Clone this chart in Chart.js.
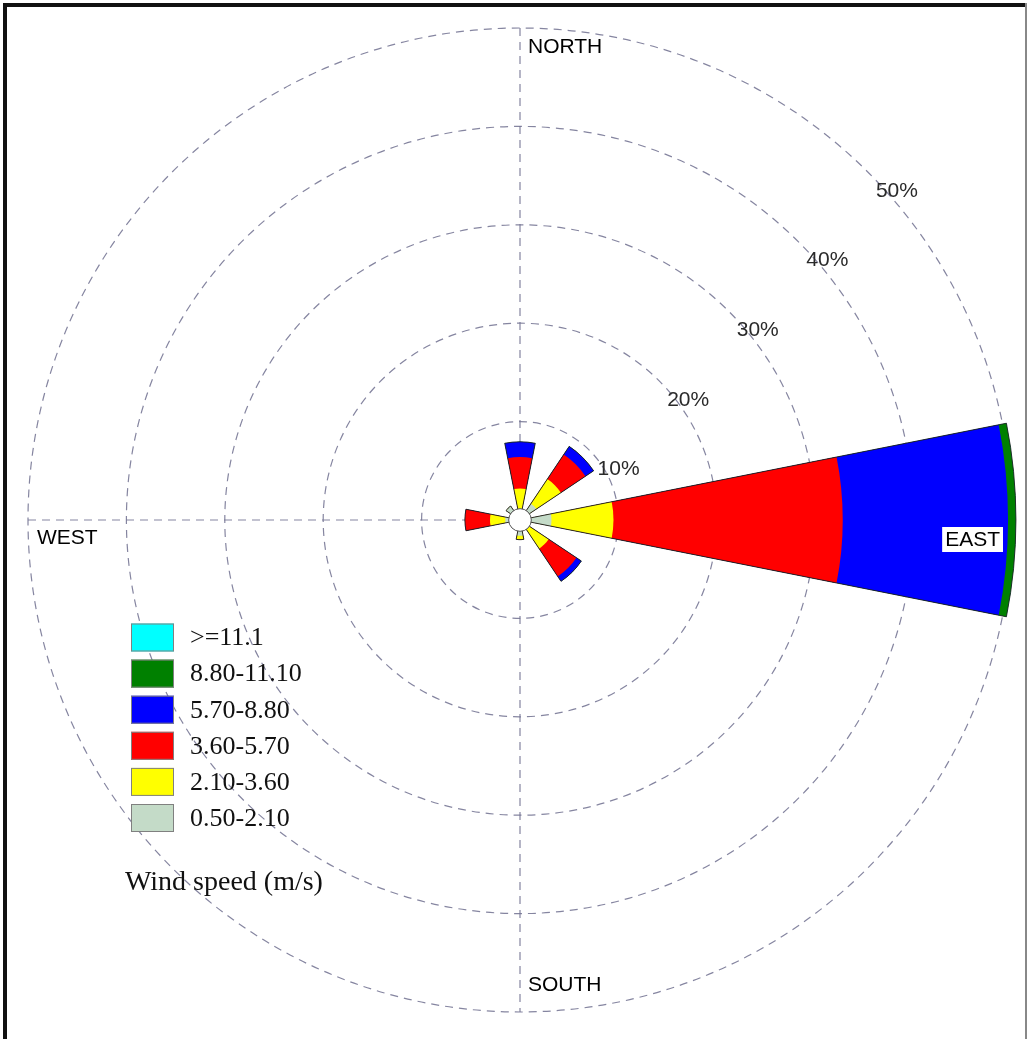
<!DOCTYPE html>
<html>
<head>
<meta charset="utf-8">
<script src="https://cdn.jsdelivr.net/npm/chart.js@4.4.1/dist/chart.umd.min.js"></script>
<style>
  html, body { margin: 0; padding: 0; background: #fff; }
  #wrap { position: relative; width: 1027px; height: 1039px; }
</style>
</head>
<body>
<div id="wrap"><canvas id="rose"></canvas></div>
<script>
// 16 compass sectors, clockwise from north
const directions = ['N','NNE','NE','ENE','E','ESE','SE','SSE','S','SSW','SW','WSW','W','WNW','NW','NNW'];

// wind speed classes (m/s) and their fill colours
const speedBins = ['0.50-2.10', '2.10-3.60', '3.60-5.70', '5.70-8.80', '8.80-11.10', '>=11.1'];
const binColors = ['#c4dbc8', '#ffff00', '#ff0000', '#0000ff', '#008000', '#00ffff'];

// frequency of occurrence (%) per direction for each speed class
const freq050to210  = [1.0, 0, 2.0, 0,  3.2, 0, 1.0, 0, 1.6, 0, 0, 0, 1.5,  0, 1.7, 0];
const freq210to360  = [2.2, 0, 3.0, 0,  6.3, 0, 2.5, 0, 0.4, 0, 0, 0, 1.55, 0, 0,   0];
const freq360to570  = [3.2, 0, 3.0, 0, 23.3, 0, 3.4, 0, 0,   0, 0, 0, 2.55, 0, 0,   0];
const freq570to880  = [1.55,0, 1.0, 0, 16.8, 0, 0.6, 0, 0,   0, 0, 0, 0,    0, 0,   0];
const freq880to1110 = [0,   0, 0,   0,  0.8, 0, 0,   0, 0,   0, 0, 0, 0,    0, 0,   0];
const freqAbove1110 = [0,   0, 0,   0,  0,   0, 0,   0, 0,   0, 0, 0, 0,    0, 0,   0];

// radial rings (%) and compass captions
const ringTicks = [0, 10, 20, 30, 40, 50];
const compassNames = ['NORTH', 'EAST', 'SOUTH', 'WEST'];
const legendTitle = 'Wind speed (m/s)';
const calmHole = 1.15; // radius of the central calm circle, in %

const binSeries = [freq050to210, freq210to360, freq360to570, freq570to880, freq880to1110, freqAbove1110];

// polar-area arcs always start at the centre, so each class is drawn as the
// running total of the classes below it; lower classes sit on top.
let running = directions.map(() => 0);
const binDatasets = binSeries.map((vals, k) => {
  running = running.map((r, i) => r + vals[i]);
  return {
    label: speedBins[k],
    data: running.slice(),
    backgroundColor: binColors[k],
    borderWidth: 0,
    clip: false
  };
});

// outline of each whole petal, drawn last so inner class boundaries stay clean
const outlineDataset = {
  label: 'outline',
  data: running.slice(),
  backgroundColor: 'rgba(0,0,0,0)',
  borderColor: 'rgba(30,30,30,0.9)',
  borderWidth: (c) => (c.raw > 0 ? 1 : 0),
  clip: false
};

const SANS = '"Liberation Sans", Arial, Helvetica, sans-serif';
const SERIF = '"Liberation Serif", "Times New Roman", serif';

// dashed N-S and E-W spokes under the sectors
const spokes = {
  id: 'spokes',
  beforeDatasetsDraw(chart) {
    const s = chart.scales.r;
    const R = s.getDistanceFromCenterForValue(s.max);
    const ctx = chart.ctx;
    ctx.save();
    ctx.strokeStyle = 'rgba(120,120,150,0.9)';
    ctx.lineWidth = 1.2;
    ctx.setLineDash([8, 6]);
    ctx.beginPath();
    ctx.moveTo(s.xCenter, s.yCenter - R);
    ctx.lineTo(s.xCenter, s.yCenter + R);
    ctx.moveTo(s.xCenter - R, s.yCenter);
    ctx.lineTo(s.xCenter + R, s.yCenter);
    ctx.stroke();
    ctx.restore();
  }
};

// calm circle, ring captions, compass captions, legend and frame
const overlay = {
  id: 'overlay',
  afterDatasetsDraw(chart) {
    const s = chart.scales.r;
    const ctx = chart.ctx;
    const cx = s.xCenter, cy = s.yCenter;
    const R = s.getDistanceFromCenterForValue(s.max);

    // calm circle
    ctx.save();
    ctx.beginPath();
    ctx.arc(cx, cy, s.getDistanceFromCenterForValue(calmHole), 0, Math.PI * 2);
    ctx.fillStyle = '#fff';
    ctx.fill();
    ctx.strokeStyle = '#555';
    ctx.lineWidth = 1;
    ctx.stroke();
    ctx.restore();

    // percentage captions along the north-east diagonal
    ctx.save();
    ctx.font = '21px ' + SANS;
    ctx.fillStyle = '#2a2a2a';
    ctx.textAlign = 'left';
    ctx.textBaseline = 'middle';
    s.ticks.forEach((t) => {
      if (t.value <= 0) return;
      const r = s.getDistanceFromCenterForValue(t.value);
      const a = Math.PI / 4;
      ctx.fillText(t.value + '%', cx + r * Math.cos(a) + 8, cy - r * Math.sin(a) + 19);
    });
    ctx.restore();

    // compass captions
    ctx.save();
    ctx.font = '21px ' + SANS;
    ctx.fillStyle = '#000';
    ctx.textBaseline = 'middle';
    ctx.textAlign = 'left';
    ctx.fillText(compassNames[0], cx + 8, cy - R + 19);
    ctx.fillText(compassNames[2], cx + 8, cy + R - 27);
    ctx.fillText(compassNames[3], cx - R + 9, cy + 18);
    const ew = ctx.measureText(compassNames[1]).width;
    const bx = cx + R - 9 - (ew + 6);
    ctx.fillStyle = '#fff';
    ctx.fillRect(bx, cy + 7, ew + 6, 25);
    ctx.fillStyle = '#000';
    ctx.fillText(compassNames[1], bx + 3, cy + 20);
    ctx.restore();

    // legend: highest class first
    ctx.save();
    const bxL = 131, by0 = 623.5, bw = 43, bh = 28, pitch = 36.1;
    const n = binDatasets.length;
    for (let j = 0; j < n; j++) {
      const ds = binDatasets[n - 1 - j];
      const y = by0 + j * pitch;
      ctx.fillStyle = ds.backgroundColor;
      ctx.fillRect(bxL, y, bw, bh);
      ctx.strokeStyle = '#808080';
      ctx.lineWidth = 1;
      ctx.strokeRect(bxL + 0.5, y + 0.5, bw - 1, bh - 1);
      ctx.fillStyle = '#111';
      ctx.font = '26px ' + SERIF;
      ctx.textAlign = 'left';
      ctx.textBaseline = 'middle';
      ctx.fillText(ds.label, 190, y + bh / 2 + 1);
    }
    ctx.font = '28px ' + SERIF;
    ctx.textBaseline = 'alphabetic';
    ctx.fillStyle = '#111';
    ctx.fillText(legendTitle, 125, 890);
    ctx.restore();

    // frame
    ctx.save();
    ctx.fillStyle = '#111';
    ctx.fillRect(3, 3, 4, chart.height - 3);
    ctx.fillRect(3, 3, chart.width - 3, 4);
    ctx.fillStyle = '#888';
    ctx.fillRect(chart.width - 2, 3, 2, chart.height - 3);
    ctx.restore();
  }
};

new Chart(document.getElementById('rose'), {
  type: 'polarArea',
  data: { labels: directions, datasets: [outlineDataset, ...binDatasets] },
  options: {
    responsive: true,
    maintainAspectRatio: false,
    animation: false,
    layout: { padding: { left: 28, top: 28, right: 15, bottom: 27 } },
    plugins: { legend: { display: false }, tooltip: { enabled: false } },
    scales: {
      r: {
        min: ringTicks[0],
        max: ringTicks[ringTicks.length - 1],
        startAngle: -11.25,
        ticks: { display: false, stepSize: ringTicks[1] - ringTicks[0] },
        grid: { circular: true, color: 'rgba(120,120,150,0.9)', lineWidth: 1.2 },
        border: { dash: [8, 6] },
        angleLines: { display: false },
        pointLabels: { display: false }
      }
    }
  },
  plugins: [spokes, overlay]
});
</script>
</body>
</html>
